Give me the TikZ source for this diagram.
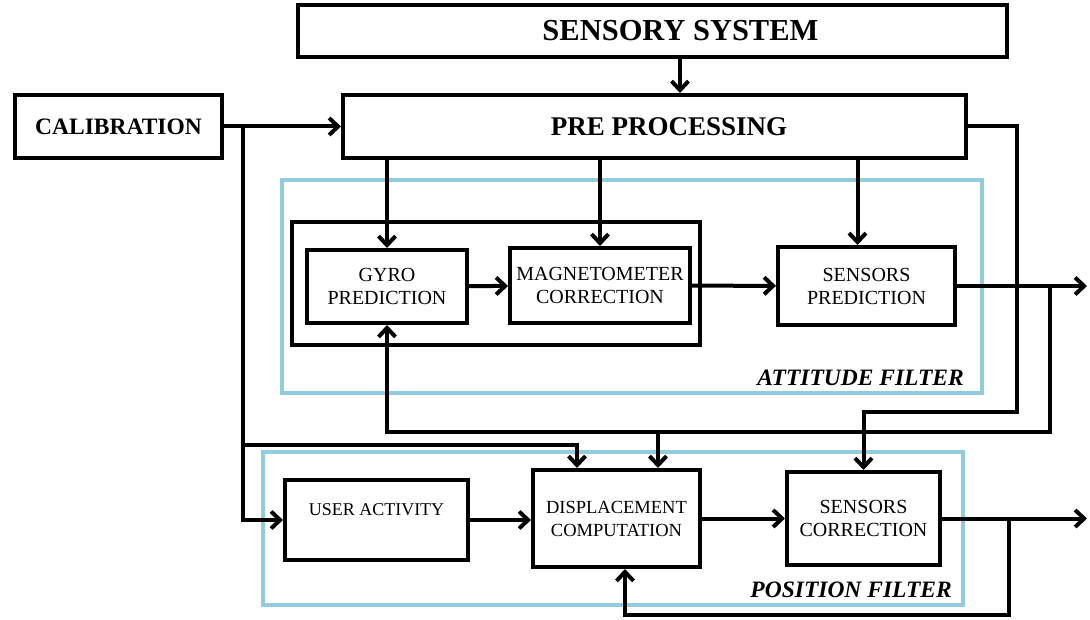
\documentclass[tikz,border=0pt]{standalone}
\usepackage{fontspec}
\setmainfont{Liberation Serif}
\usetikzlibrary{shapes,arrows.meta}
\definecolor{filterblue}{RGB}{145,204,224}

\begin{document}
\begin{tikzpicture}[x=1pt, y=-1pt, auto]
\tikzstyle{block} = [rectangle, draw, line width=4pt, align=center, inner sep=0pt, font=\fontsize{20}{23}\selectfont]
\tikzstyle{title} = [block, font=\fontsize{27}{30}\selectfont\bfseries]
\tikzstyle{tlabel} = [inner sep=0pt, font=\fontsize{27}{30}\selectfont\bfseries]
\tikzstyle{filter} = [rectangle, draw=filterblue, line width=4pt, inner sep=0pt]
\tikzstyle{flabel} = [anchor=base east, inner sep=0pt, font=\fontsize{23.5}{26}\selectfont\bfseries\itshape]
\tikzstyle{line} = [draw, line width=4pt, -{Straight Barb[length=9pt,width=17pt]}]

\useasboundingbox (0,0) rectangle (1090,620);

\node [filter, minimum width=700pt, minimum height=213pt] (attbox) at (632,286.5) {};
\node [filter, minimum width=700pt, minimum height=153pt] (posbox) at (613,528.5) {};
\node [flabel] (attlbl) at ([xshift=-20pt,yshift=10pt]attbox.south east) {ATTITUDE FILTER};
\node [flabel] (poslbl) at ([xshift=-13pt,yshift=10pt]posbox.south east) {POSITION FILTER};

\node [block, minimum width=709pt, minimum height=52pt] (sensory) at (652.5,31) {};
\node [tlabel, font=\fontsize{30.5}{32}\selectfont\bfseries] (sslbl) at ([xshift=28pt]sensory.center) {SENSORY SYSTEM};
\node [block, minimum width=623pt, minimum height=63pt] (pre) at (654.5,126.5) {};
\node [tlabel] (prelbl) at ([xshift=14.5pt]pre.center) {PRE PROCESSING};
\node [title, minimum width=207pt, minimum height=63pt, font=\fontsize{23.5}{26}\selectfont\bfseries] (calib) at (118.5,126.5) {CALIBRATION};

\node [block, minimum width=408pt, minimum height=123pt] (group) at (496,283.5) {};
\node [block, minimum width=160pt, minimum height=73pt] (gyro) at (387,286.5) {GYRO\\PREDICTION};
\node [block, minimum width=180pt, minimum height=75pt] (mag) at (600,285.5) {MAGNETOMETER\\CORRECTION};
\node [block, minimum width=177pt, minimum height=78pt] (sp) at (866.5,286) {SENSORS\\PREDICTION};

\node [block, minimum width=183pt, minimum height=80pt] (user) at (376.5,520) {};
\node [anchor=north, inner sep=0pt, font=\fontsize{18}{21}\selectfont] (userlbl) at ([yshift=-25pt]user.north) {USER ACTIVITY};
\node [block, minimum width=167pt, minimum height=97pt, font=\fontsize{18.5}{23}\selectfont] (disp) at (616.5,518.5) {DISPLACEMENT\\COMPUTATION};
\node [block, minimum width=153pt, minimum height=93pt] (sc) at (863.5,518.5) {SENSORS\\CORRECTION};

\coordinate (ssout) at ([xshift=27.5pt]sensory.south);
\coordinate (calsplit) at ([xshift=19pt]calib.east);
\coordinate (busA) at (0,432);
\coordinate (busB) at (1017,412);
\coordinate (busC) at (0,445);
\coordinate (busD) at (0,615);
\coordinate (out1) at ([xshift=130pt]sp.east);
\coordinate (tap1) at ([xshift=93pt]sp.east);
\coordinate (out2) at (out1 |- sc.east);
\coordinate (tap2) at ([xshift=67pt]sc.east);
\coordinate (dispinA) at ([xshift=-39.5pt]disp.north);
\coordinate (dispinB) at ([xshift=41.5pt]disp.north);
\coordinate (dispfb) at ([xshift=8.5pt]disp.south);
\coordinate (spin) at ([xshift=-9pt]sp.north);

\path [line] (ssout) -- (ssout |- pre.north);
\path [line] (calib) -- (pre);
\path [line] (calsplit) |- (user.west);
\path [line] (calsplit |- busC) -| (dispinA);
\path [line] (gyro.north |- pre.south) -- (gyro.north);
\path [line] (mag.north |- pre.south) -- (mag.north);
\path [line] (spin |- pre.south) -- (spin);
\path [line] (gyro) -- (mag);
\path [line] (mag) -- (sp);
\path [line] (sp) -- (out1);
\path [line] (tap1) |- (busA -| gyro.south) -- (gyro.south);
\path [line] (dispinB |- busA) -- (dispinB);
\path [line] (pre.east) -| (busB) -| (sc.north);
\path [line] (user.east) -- (user.east -| disp.west);
\path [line] (disp) -- (sc);
\path [line] (sc) -- (out2);
\path [line] (tap2) |- (busD -| dispfb) -- (dispfb);
\end{tikzpicture}
\end{document}
